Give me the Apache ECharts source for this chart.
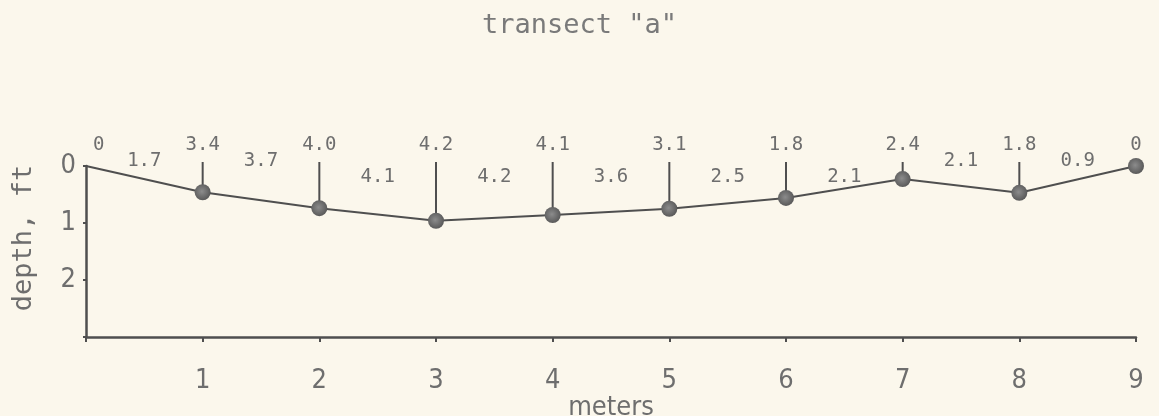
<!DOCTYPE html>
<html>
<head>
<meta charset="utf-8">
<script src="https://cdn.jsdelivr.net/npm/echarts@6/dist/echarts.min.js"></script>
<style>
  html, body { margin: 0; padding: 0; background: #fbf7ec; }
  #chart { width: 1159px; height: 416px; }
</style>
</head>
<body>
<div id="chart"></div>
<script>
// Stations along the transect (meters) and water depth at each (feet)
const meters = [0, 1, 2, 3, 4, 5, 6, 7, 8, 9];
const depthFt = [0, 0.46, 0.74, 0.96, 0.86, 0.75, 0.56, 0.23, 0.47, 0];
// Readings written above each station
const stationReadings = [0, 3.4, 4.0, 4.2, 4.1, 3.1, 1.8, 2.4, 1.8, 0];
// Readings taken halfway between stations
const midMeters = [0.5, 1.5, 2.5, 3.5, 4.5, 5.5, 6.5, 7.5, 8.5];
const midReadings = [1.7, 3.7, 4.1, 4.2, 3.6, 2.5, 2.1, 2.1, 0.9];
// Axis ticks
const xTicks = [1, 2, 3, 4, 5, 6, 7, 8, 9];
const yTicks = [0, 1, 2];

// Layout: which midpoint readings sit on the upper row, clear of the stems
const midRaised = [true, true, false, false, false, false, false, true, true];

const INK = '#4f4f4f';
const TEXT = '#6e6e6e';
const MONO = "'DejaVu Sans Mono', 'Liberation Mono', monospace";
const NARROW = "'Liberation Sans Narrow', 'DejaVu Sans Condensed', 'DejaVu Sans', sans-serif";

const fmt = v => (v === 0 ? '0' : v.toFixed(1));

const chart = echarts.init(document.getElementById('chart'), null, { renderer: 'canvas' });

const option = {
  backgroundColor: '#fbf7ec',
  animation: false,
  title: {
    text: 'transect "a"',
    left: 'center',
    top: 7,
    textStyle: { fontFamily: MONO, fontSize: 27, fontWeight: 'normal', color: '#7a7a7a' }
  },
  graphic: [{
    type: 'text',
    x: 24, y: 238,
    rotation: Math.PI / 2,
    style: {
      text: 'depth, ft',
      font: '27px ' + MONO,
      fill: TEXT,
      align: 'center',
      verticalAlign: 'middle'
    }
  }],
  grid: {
    left: 86, top: 166, right: 23, bottom: 79,
    containLabel: false,
    outerBoundsMode: 'none'
  },
  xAxis: {
    type: 'value',
    min: 0, max: 9, interval: 1,
    name: 'meters',
    nameLocation: 'middle',
    nameGap: 51,
    nameTextStyle: { fontFamily: NARROW, fontSize: 27, color: TEXT },
    axisLine: { onZero: false, lineStyle: { color: INK, width: 2.5 } },
    axisTick: { length: 5, lineStyle: { color: INK, width: 2 } },
    axisLabel: {
      margin: 30,
      fontFamily: NARROW, fontSize: 27, color: TEXT,
      formatter: v => (xTicks.indexOf(v) >= 0 ? String(v) : '')
    },
    splitLine: { show: false }
  },
  yAxis: {
    type: 'value',
    inverse: true,
    min: 0, max: 3, interval: 1,
    axisLine: { onZero: false, lineStyle: { color: INK, width: 2.5 } },
    axisTick: { length: 3, lineStyle: { color: INK, width: 2 } },
    axisLabel: {
      margin: 10,
      fontFamily: NARROW, fontSize: 27, color: TEXT,
      formatter: v => (yTicks.indexOf(v) >= 0 ? String(v) : '')
    },
    splitLine: { show: false }
  },
  series: [
    {
      // stems and readings above each station
      type: 'custom',
      clip: false,
      z: 1,
      data: meters.map((m, i) => [m, depthFt[i], stationReadings[i]]),
      renderItem: (params, api) => {
        const x = api.value(0), d = api.value(1), r = api.value(2);
        const p = api.coord([x, d]);
        const top = api.coord([x, 0])[1] - 4;
        const children = [];
        if (r > 0) {
          children.push({
            type: 'line',
            shape: { x1: p[0], y1: p[1], x2: p[0], y2: top },
            style: { stroke: INK, lineWidth: 2 }
          });
        }
        const first = params.dataIndex === 0;
        children.push({
          type: 'text',
          style: {
            text: fmt(r),
            x: p[0] + (first ? 7 : 0),
            y: top - 17,
            align: first ? 'left' : 'center',
            verticalAlign: 'middle',
            font: '19px ' + MONO,
            fill: TEXT
          }
        });
        return { type: 'group', children };
      }
    },
    {
      // readings halfway between stations
      type: 'custom',
      clip: false,
      z: 1,
      data: midMeters.map((m, i) => [m, midReadings[i]]),
      renderItem: (params, api) => {
        const x = api.value(0);
        const zero = api.coord([x, 0]);
        const y = zero[1] + (midRaised[params.dataIndex] ? -5 : 11);
        return {
          type: 'text',
          style: {
            text: fmt(api.value(1)),
            x: zero[0], y,
            align: 'center',
            verticalAlign: 'middle',
            font: '19px ' + MONO,
            fill: TEXT
          }
        };
      }
    },
    {
      type: 'line',
      z: 3,
      clip: false,
      data: meters.map((m, i) => [m, depthFt[i]]),
      symbol: 'circle',
      symbolSize: (val, params) => (params.dataIndex === 0 ? 0 : 16),
      lineStyle: { color: INK, width: 2 },
      itemStyle: {
        color: {
          type: 'radial', x: 0.45, y: 0.45, r: 0.6,
          colorStops: [
            { offset: 0, color: '#8c8c8c' },
            { offset: 1, color: '#555555' }
          ]
        },
        borderWidth: 0
      }
    }
  ]
};

chart.setOption(option);
</script>
</body>
</html>
